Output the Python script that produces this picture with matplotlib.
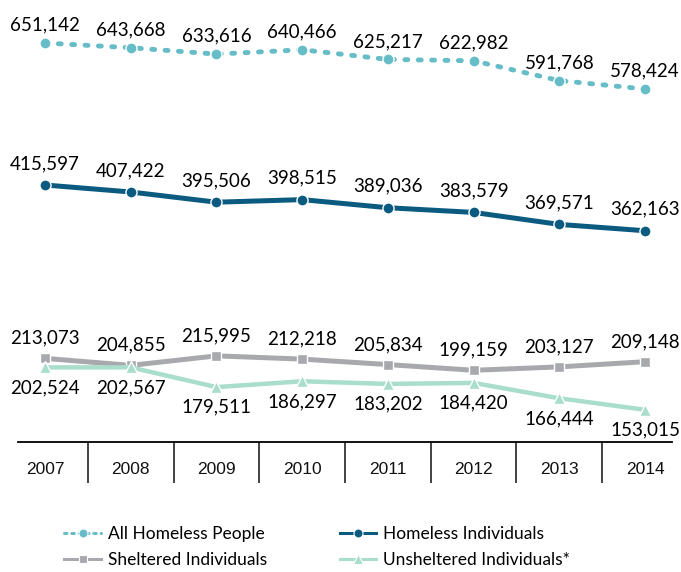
import matplotlib.pyplot as plt
from matplotlib.lines import Line2D

# Point-in-time counts
years = [2007, 2008, 2009, 2010, 2011, 2012, 2013, 2014]
all_homeless = [651142, 643668, 633616, 640466, 625217, 622982, 591768, 578424]
homeless_individuals = [415597, 407422, 395506, 398515, 389036, 383579, 369571, 362163]
sheltered = [213073, 204855, 215995, 212218, 205834, 199159, 203127, 209148]
unsheltered = [202524, 202567, 179511, 186297, 183202, 184420, 166444, 153015]

plt.rcParams['font.family'] = ['Lato', 'DejaVu Sans']

c_all = '#66bdc8'
c_ind = '#0b5a80'
c_shel = '#a7a9ac'
c_unsh = '#a9ddcc'

fig = plt.figure(figsize=(6.81, 5.72), dpi=100)
ax = fig.add_axes([18/681, 1-442/572, 654/681, 442/572])
ax_top = ax.twinx()
ax_tab = fig.add_axes([18/681, 1-483/572, 654/681, 41/572])

xlim = (2006.685, 2014.315)
ax.set_xlim(*xlim)
ax.set_ylim(115370, 631714)
ax_top.set_ylim(20403, 719116)

ax.plot(years, homeless_individuals, color=c_ind, lw=3.6, marker='o', ms=8,
        mec='white', mew=1, solid_capstyle='round')
ax.plot(years, sheltered, color=c_shel, lw=3.6, marker='s', ms=7.5,
        mec='white', mew=1, solid_capstyle='round')
ax.plot(years, unsheltered, color=c_unsh, lw=3.2, marker='^', ms=8.5,
        mec='white', mew=1, solid_capstyle='round')
ax_top.plot(years, all_homeless, color=c_all, lw=3.5, ls=(0, (0.6, 2.15)),
            dash_capstyle='round', marker='o', ms=8, mec='white', mew=1)

# etiquetas de valores
fs = 13.5
for x, v in zip(years, all_homeless):
    ax_top.annotate(f'{v:,}', (x, v), xytext=(0, 9), textcoords='offset points',
                    ha='center', va='baseline', fontsize=fs)
for x, v in zip(years, homeless_individuals):
    ax.annotate(f'{v:,}', (x, v), xytext=(0, 11.5), textcoords='offset points',
                ha='center', va='baseline', fontsize=fs)
for x, v in zip(years, sheltered):
    ax.annotate(f'{v:,}', (x, v), xytext=(0, 10.5), textcoords='offset points',
                ha='center', va='baseline', fontsize=fs)
for x, v in zip(years, unsheltered):
    ax.annotate(f'{v:,}', (x, v), xytext=(0, -18.5), textcoords='offset points',
                ha='center', va='baseline', fontsize=fs)

ax.axis('off')
ax_top.axis('off')

# tabla de años
ax_tab.set_xlim(*xlim)
ax_tab.set_ylim(0, 1)
for s in ['left', 'right', 'bottom']:
    ax_tab.spines[s].set_visible(False)
ax_tab.spines['top'].set_linewidth(1.3)
ax_tab.set_xticks([])
ax_tab.set_yticks([])
ax_tab.patch.set_alpha(0)
ax_tab.vlines([y + 0.5 for y in years[:-1]], 0, 1, color='#222222', lw=1.2)
for y in years:
    ax_tab.text(y, 0.34, str(y), ha='center', va='center',
                family='Liberation Sans', fontsize=12.5, color='#111111')

# leyenda con trazos más finos
handles = [
    Line2D([], [], color=c_all, lw=2.2, ls=(0, (0.8, 1.6)), dash_capstyle='round',
           marker='o', ms=6.5, mec='white', mew=0.8),
    Line2D([], [], color=c_shel, lw=2.2, marker='s', ms=6, mec='white', mew=0.8),
    Line2D([], [], color=c_ind, lw=2.2, marker='o', ms=6.5, mec='white', mew=0.8),
    Line2D([], [], color=c_unsh, lw=2.2, marker='^', ms=7, mec='white', mew=0.8),
]
labels = ['All Homeless People', 'Sheltered Individuals',
          'Homeless Individuals', 'Unsheltered Individuals*']
fig.legend(handles, labels, ncol=2, loc='center', bbox_to_anchor=(0.466, 0.0437),
           frameon=False, fontsize=12.5, handlelength=2.1, columnspacing=4.2,
           labelspacing=0.6, handletextpad=0.4)

fig.savefig('out.png', dpi=100)
